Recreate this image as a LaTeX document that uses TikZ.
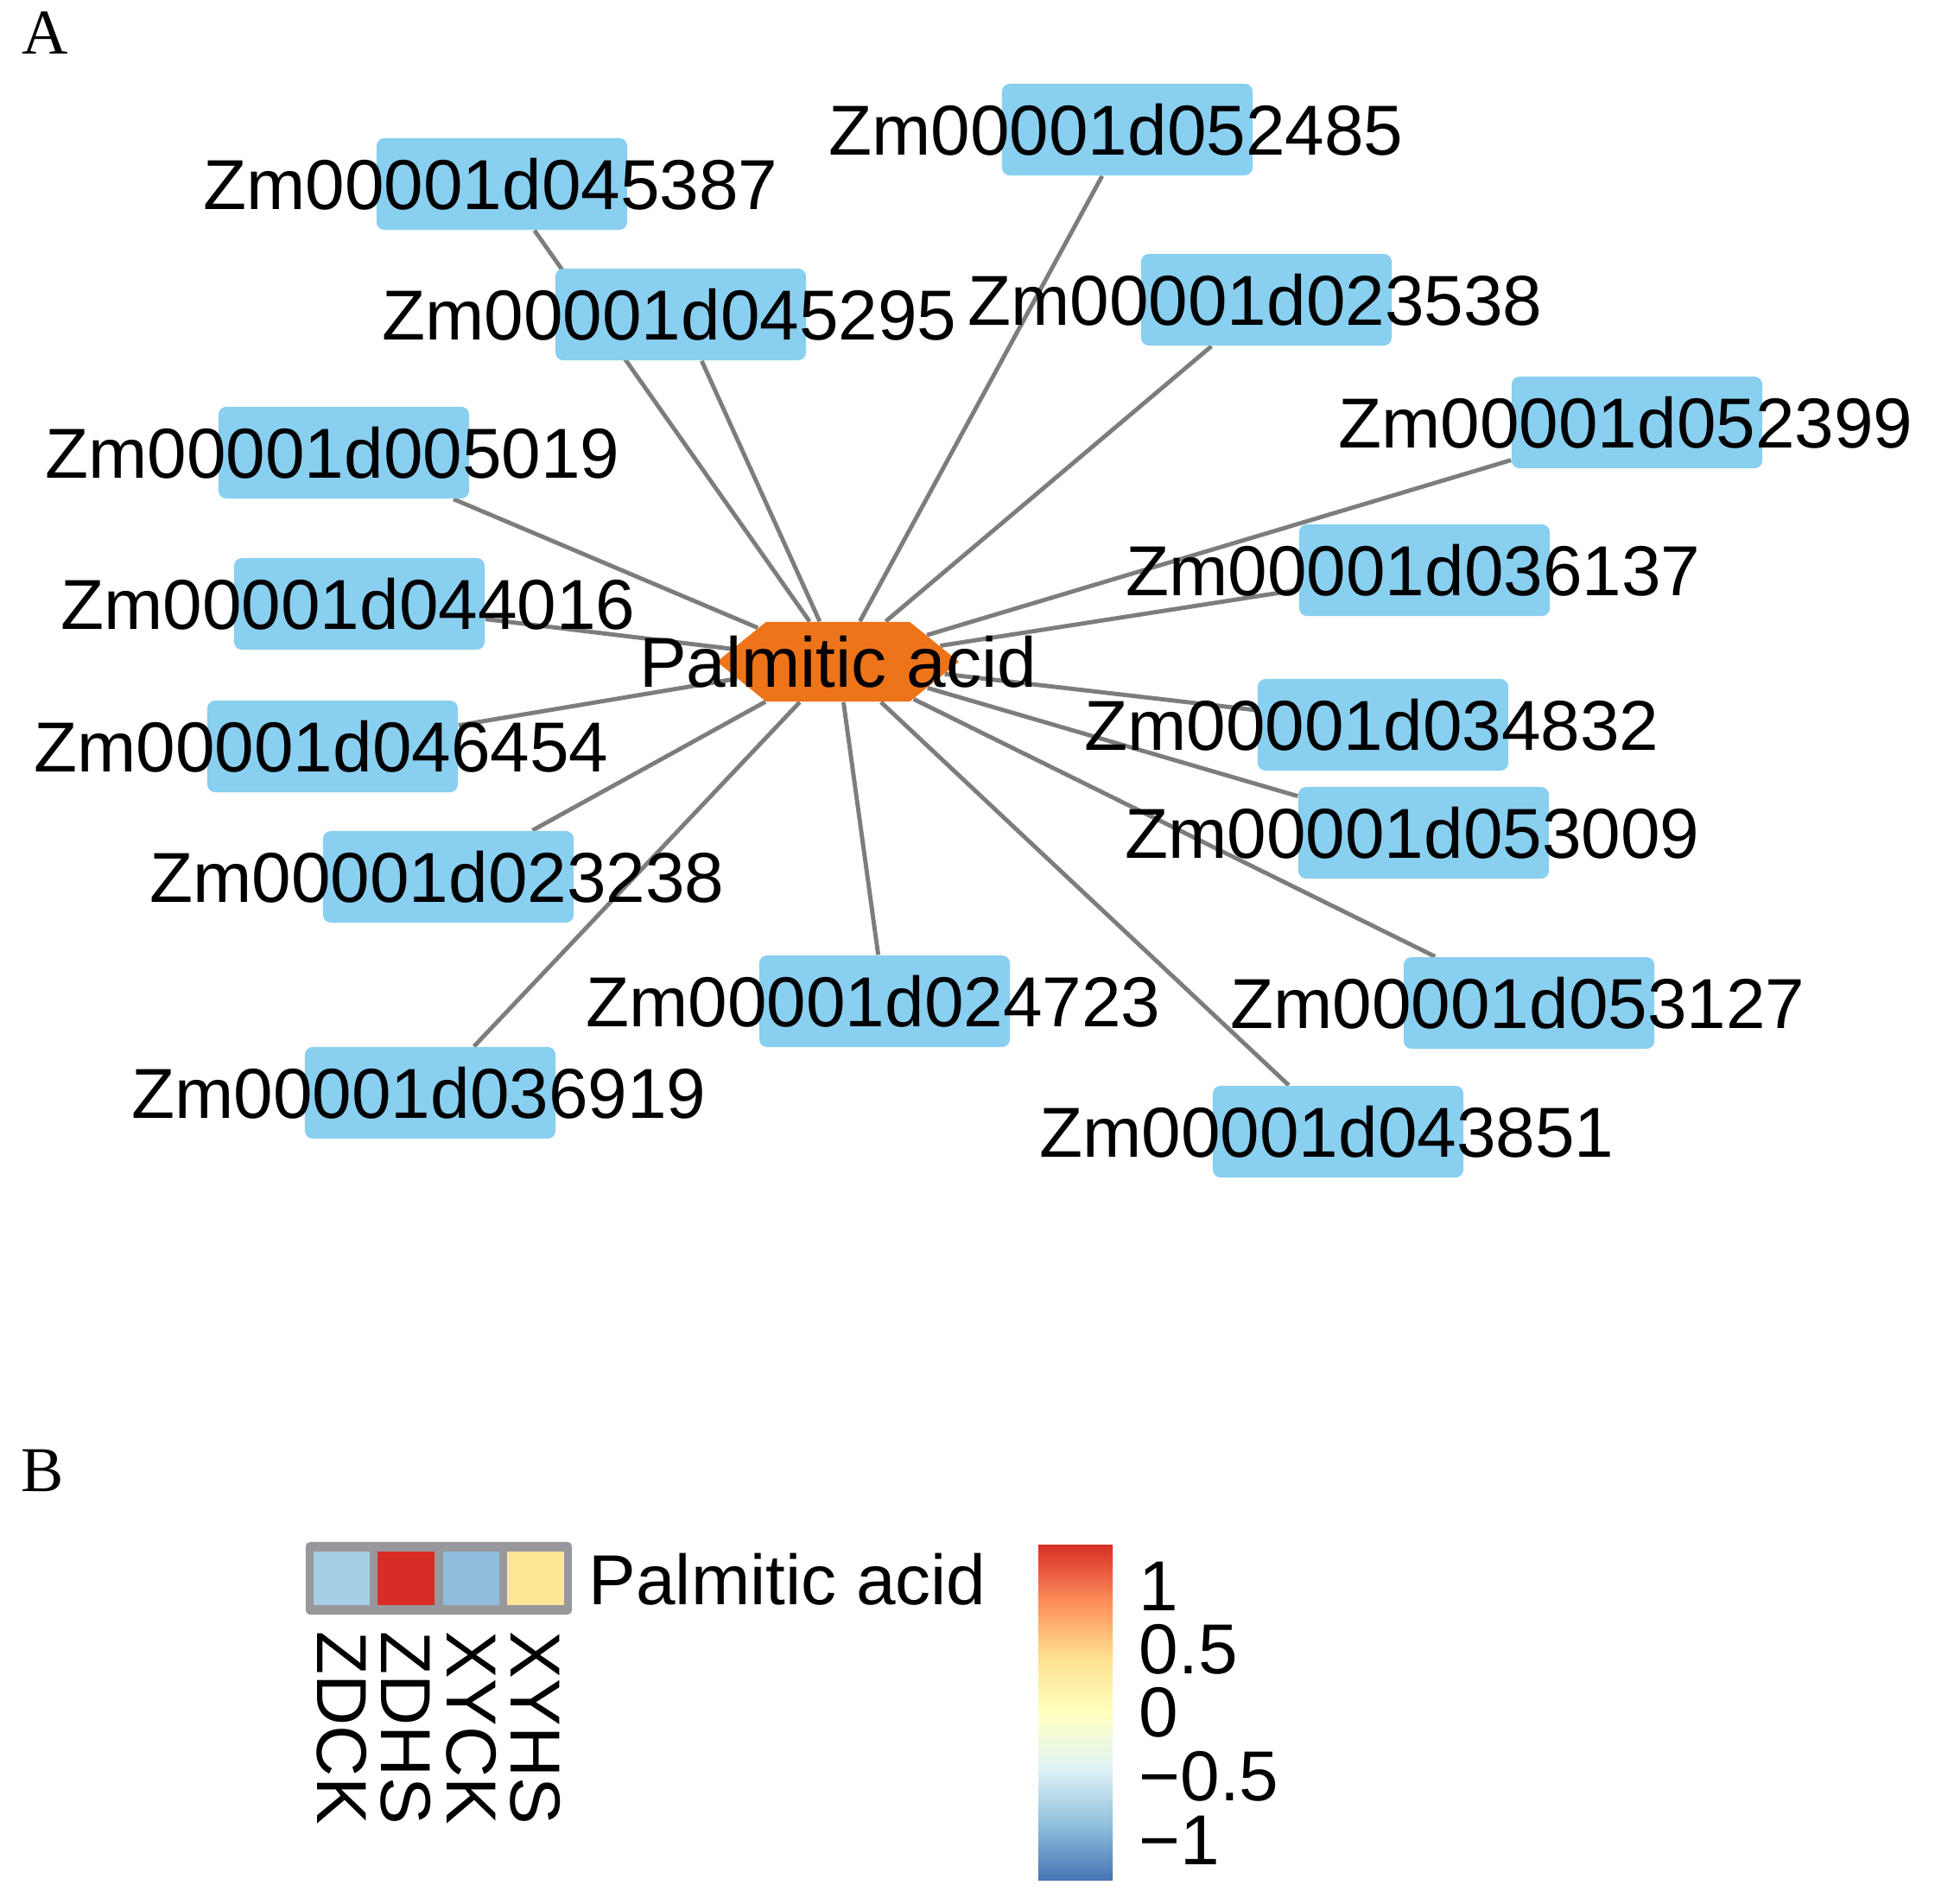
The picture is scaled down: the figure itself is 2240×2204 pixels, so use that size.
\documentclass[tikz,border=0pt]{standalone}
\usepackage{fontspec}
\setmainfont{Liberation Sans}
\newfontfamily\panelfont{Liberation Serif}
\usetikzlibrary{shapes,shapes.symbols}
\usetikzlibrary{backgrounds}
\definecolor{genebl}{RGB}{137,207,240}
\definecolor{metor}{RGB}{238,116,26}
\definecolor{edgegr}{RGB}{125,125,125}
\definecolor{framegr}{RGB}{152,152,156}
\definecolor{hmA}{RGB}{166,206,228}
\definecolor{hmB}{RGB}{215,45,38}
\definecolor{hmC}{RGB}{145,190,220}
\definecolor{hmD}{RGB}{253,230,150}
\definecolor{cbA}{HTML}{4575B4}
\definecolor{cbB}{HTML}{91BFDB}
\definecolor{cbC}{HTML}{E0F3F8}
\definecolor{cbD}{HTML}{FFFFBF}
\definecolor{cbE}{HTML}{FEE090}
\definecolor{cbF}{HTML}{FC8D59}
\definecolor{cbG}{HTML}{D73027}
\pgfdeclareverticalshading{rdylbu}{100bp}{color(0bp)=(cbA); color(25bp)=(cbA);
  color(33.33bp)=(cbB); color(41.67bp)=(cbC); color(50bp)=(cbD); color(58.33bp)=(cbE);
  color(66.67bp)=(cbF); color(75bp)=(cbG); color(100bp)=(cbG)}

\begin{document}
\begin{tikzpicture}[x=0.01cm,y=-0.01cm]
  \tikzset{
  txt/.style = {inner sep=0pt, font=\fontsize{23.3}{28}\selectfont},
  gene_box/.style = {rectangle, rounded corners=0.09cm, fill=genebl, inner sep=0pt,
    minimum width=2.9cm, minimum height=1.06cm},% gene, box
  gene_lbl/.style = {txt, xshift=-0.13cm},% gene, name
  met_n/.style = {signal, signal to=west and east, signal pointer angle=78,
    fill=metor, inner sep=0pt, minimum width=2.8cm, minimum height=0.92cm},% metabolite
  edge_l/.style = {draw=edgegr, line width=1.4pt},
  hm_frame/.style = {rectangle, rounded corners=0.05cm, fill=framegr, inner sep=0pt,
    minimum width=3.08cm, minimum height=0.84cm},% heatmap, border
  hm_cell/.style = {rectangle, inner sep=0pt, minimum width=0.65cm,
    minimum height=0.62cm},% heatmap, cell
  col_lbl/.style = {txt, rotate=-90, anchor=west},% heatmap, sample
  tick_l/.style = {txt, anchor=west},% colour key, value
  panel_lbl/.style = {inner sep=0pt, font=\panelfont\fontsize{21}{25}\selectfont}
}

\useasboundingbox (0,0) rectangle (2240,2204);

% A
\node [panel_lbl] (pA) at (52,38) {A};

\node [met_n, label={[txt]center:Palmitic acid}] (pa) at (970,766) {};

\node [gene_box, label={[gene_lbl]center:Zm00001d045387}] (g01) at (581,213) {};
\node [gene_box, label={[gene_lbl]center:Zm00001d052485}] (g02) at (1305,150) {};
\node [gene_box, label={[gene_lbl]center:Zm00001d045295}] (g03) at (788,364) {};
\node [gene_box, label={[gene_lbl]center:Zm00001d023538}] (g04) at (1466,347) {};
\node [gene_box, label={[gene_lbl]center:Zm00001d052399}] (g05) at (1895,489) {};
\node [gene_box, label={[gene_lbl]center:Zm00001d005019}] (g06) at (398,524) {};
\node [gene_box, label={[gene_lbl]center:Zm00001d036137}] (g07) at (1649,660) {};
\node [gene_box, label={[gene_lbl]center:Zm00001d044016}] (g08) at (416,699) {};
\node [gene_box, label={[gene_lbl]center:Zm00001d046454}] (g09) at (385,864) {};
\node [gene_box, label={[gene_lbl]center:Zm00001d034832}] (g10) at (1601,839) {};
\node [gene_box, label={[gene_lbl]center:Zm00001d053009}] (g11) at (1648,964) {};
\node [gene_box, label={[gene_lbl]center:Zm00001d023238}] (g12) at (519,1015) {};
\node [gene_box, label={[gene_lbl]center:Zm00001d024723}] (g13) at (1024,1159) {};
\node [gene_box, label={[gene_lbl]center:Zm00001d053127}] (g14) at (1770,1161) {};
\node [gene_box, label={[gene_lbl]center:Zm00001d036919}] (g15) at (498,1265) {};
\node [gene_box, label={[gene_lbl]center:Zm00001d043851}] (g16) at (1549,1310) {};

\begin{scope}[on background layer]
\draw [edge_l] (pa) -- (g01) (pa) -- (g02) (pa) -- (g03) (pa) -- (g04)
  (pa) -- (g05) (pa) -- (g06) (pa) -- (g07) (pa) -- (g08)
  (pa) -- (g09) (pa) -- (g10) (pa) -- (g11) (pa) -- (g12)
  (pa) -- (g13) (pa) -- (g14) (pa) -- (g15) (pa) -- (g16);
\end{scope}

% B
\node [panel_lbl] (pB) at (49,1702) {B};

\node [hm_frame] (hmf) at (508,1827) {};
\node [hm_cell, fill=hmA] (c1) at (395.5,1827) {};
\node [hm_cell, fill=hmB] (c2) at (470,1827) {};
\node [hm_cell, fill=hmC] (c3) at (545.5,1827) {};
\node [hm_cell, fill=hmD] (c4) at (620,1827) {};
\node [txt, anchor=base west] (hmt) at (681,1857) {Palmitic acid};

\node [col_lbl] (s1) at (395.5,1888) {ZDCK};
\node [col_lbl] (s2) at (470,1888) {ZDHS};
\node [col_lbl] (s3) at (545.5,1888) {XYCK};
\node [col_lbl] (s4) at (620,1888) {XYHS};

\node [rectangle, inner sep=0pt, shading=rdylbu, minimum width=0.86cm,
  minimum height=3.87cm] (cbar) at (1245,1982.5) {};
\node [tick_l] (k1) at (1318,1836) {1};
\node [tick_l] (k2) at (1318,1909) {0.5};
\node [tick_l] (k3) at (1318,1982) {0};
\node [tick_l] (k4) at (1318,2056) {−0.5};
\node [tick_l] (k5) at (1318,2130) {−1};
\end{tikzpicture}
\end{document}
